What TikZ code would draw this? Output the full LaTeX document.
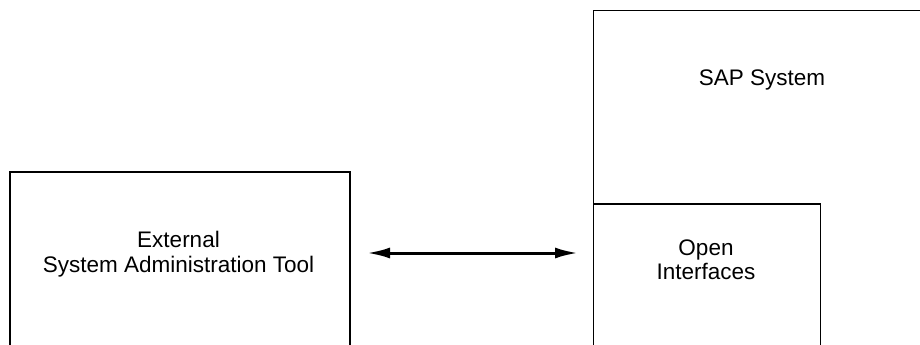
\documentclass[tikz,border=0pt]{standalone}
\usepackage{fontspec}
\setmainfont{Liberation Sans}
\usetikzlibrary{arrows.meta}
\begin{document}
\begin{tikzpicture}[x=1pt,y=-1pt,
  box/.style={draw=black, line width=1.5pt, anchor=north west, inner sep=0pt},
  lbl/.style={align=center, font=\fontsize{22.5}{24.5}\selectfont, inner sep=0pt},
  conn/.style={line width=3pt, {Latex[length=23pt,width=11pt]}-{Latex[length=23pt,width=11pt]}}]
\useasboundingbox (0,0) rectangle (920,345);
\clip (0,0) rectangle (920,345);
\node[box, minimum width=340pt, minimum height=220pt] (ext) at (9,171) {};
\node[lbl] (extlbl) at (178.5,254) {External\\System Administration Tool};
\node[box, minimum width=400pt, minimum height=380pt] (sap) at (592.5,10) {};
\node[lbl] (saplbl) at (762,80) {SAP System};
\node[box, fill=white, minimum width=227pt, minimum height=180pt] (oi) at (592.5,203) {};
\node[lbl] (oilbl) at (706,260) {Open\\Interfaces};
\coordinate (a1) at (367,253);
\coordinate (a2) at (578,253);
\draw[conn] (a1) -- (a2);
\end{tikzpicture}
\end{document}
